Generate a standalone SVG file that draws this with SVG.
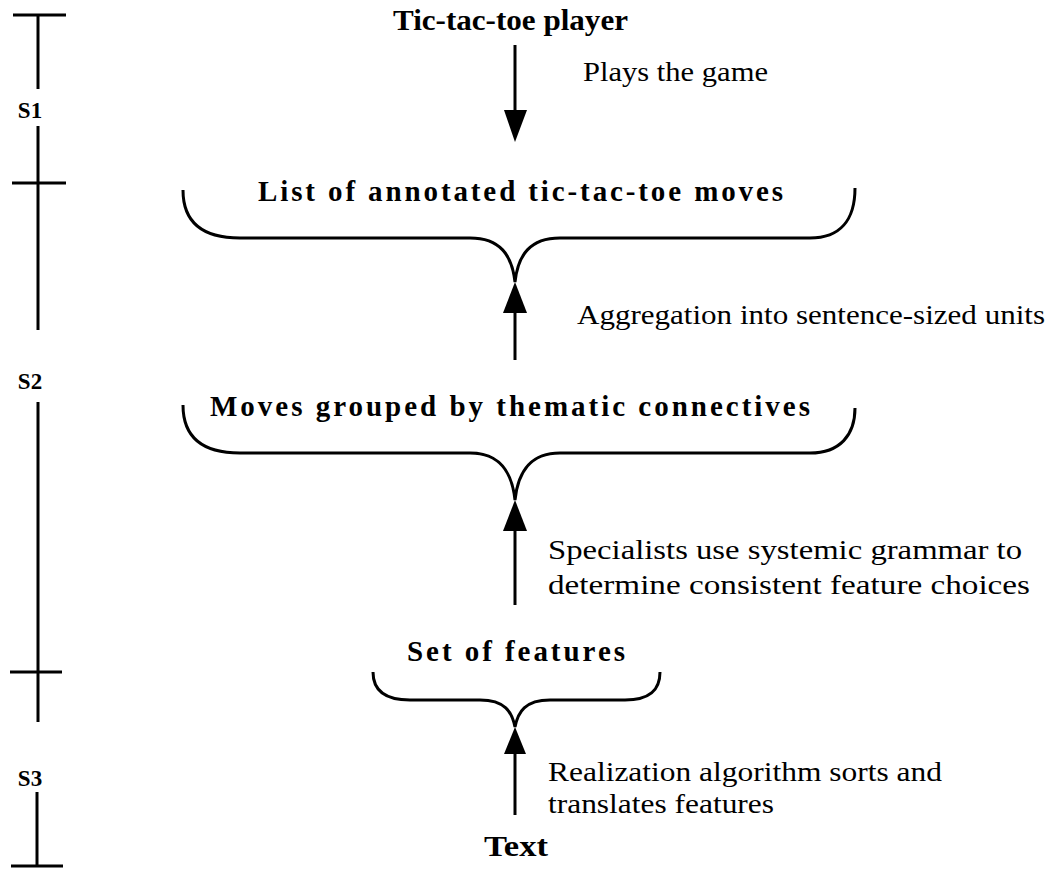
<svg xmlns="http://www.w3.org/2000/svg" width="1056" height="881" viewBox="0 0 1056 881">
<style>
.bg{fill:#fff}
.ln{stroke:#000;stroke-width:3;fill:none;stroke-linecap:butt}
.br{stroke:#000;stroke-width:3;fill:none}
.hd{fill:#000}
.t{font-family:"Liberation Serif",serif;font-weight:bold;font-size:29px;fill:#000}
.l{font-family:"Liberation Serif",serif;font-size:28px;fill:#000}
.s{font-family:"Liberation Serif",serif;font-weight:bold;font-size:23px;fill:#000}
</style>
<rect class="bg" x="0" y="0" width="1056" height="881"/>
<g id="ruler">
<line class="ln" x1="13" y1="15" x2="66" y2="15"/>
<line class="ln" x1="38" y1="15" x2="38" y2="89"/>
<text class="s" x="30" y="118" text-anchor="middle">S1</text>
<line class="ln" x1="38" y1="126" x2="38" y2="330"/>
<line class="ln" x1="12" y1="183" x2="66" y2="183"/>
<text class="s" x="30" y="389" text-anchor="middle">S2</text>
<line class="ln" x1="38" y1="402" x2="38" y2="722"/>
<line class="ln" x1="10" y1="672" x2="62" y2="672"/>
<text class="s" x="30" y="786" text-anchor="middle">S3</text>
<line class="ln" x1="37" y1="792" x2="37" y2="866"/>
<line class="ln" x1="11" y1="866" x2="63" y2="866"/>
</g>
<g id="player">
<text class="t" x="393" y="30" textLength="235" lengthAdjust="spacingAndGlyphs">Tic-tac-toe player</text>
</g>
<g id="moves">
<text class="t" x="258" y="201" textLength="525" lengthAdjust="spacing">List of annotated tic-tac-toe moves</text>
<path class="br" d="M183,190 C183,220 200,238 240,238 L470,238 C500,238 512,255 515,282 C518,255 530,238 560,238 L810,238 C840,238 855,220 855,188"/>
</g>
<g id="grouped">
<text class="t" x="210" y="416" textLength="600" lengthAdjust="spacing">Moves grouped by thematic connectives</text>
<path class="br" d="M183,405 C183,435 200,453 240,453 L470,453 C500,453 512,472 515,500 C518,472 530,453 560,453 L810,453 C840,453 855,435 855,408"/>
</g>
<g id="features">
<text class="t" x="407" y="661" textLength="218" lengthAdjust="spacing">Set of features</text>
<path class="br" d="M373,672 C373,690 385,700 410,700 L480,700 C505,700 512,712 515,727 C518,712 525,700 550,700 L625,700 C650,700 660,690 660,672"/>
</g>
<g id="text">
<text class="t" x="484" y="856" textLength="64" lengthAdjust="spacingAndGlyphs">Text</text>
</g>
<g id="connectors">
<line class="ln" x1="515" y1="45" x2="515" y2="115"/>
<polygon class="hd" points="504,110 527,110 515,142"/>
<text class="l" x="583" y="81" textLength="185" lengthAdjust="spacingAndGlyphs">Plays the game</text>
<line class="ln" x1="515" y1="308" x2="515" y2="360"/>
<polygon class="hd" points="515,282 503,313 527,313"/>
<text class="l" x="577" y="324" textLength="468" lengthAdjust="spacingAndGlyphs">Aggregation into sentence-sized units</text>
<line class="ln" x1="515" y1="526" x2="515" y2="605"/>
<polygon class="hd" points="515,500 503,531 527,531"/>
<text class="l" x="548" y="559" textLength="474" lengthAdjust="spacingAndGlyphs">Specialists use systemic grammar to</text>
<text class="l" x="548" y="594" textLength="482" lengthAdjust="spacingAndGlyphs">determine consistent feature choices</text>
<line class="ln" x1="515" y1="750" x2="515" y2="815"/>
<polygon class="hd" points="515,727 504,754 526,754"/>
<text class="l" x="548" y="781" textLength="394" lengthAdjust="spacingAndGlyphs">Realization algorithm sorts and</text>
<text class="l" x="548" y="813" textLength="226" lengthAdjust="spacingAndGlyphs">translates features</text>
</g>
</svg>
